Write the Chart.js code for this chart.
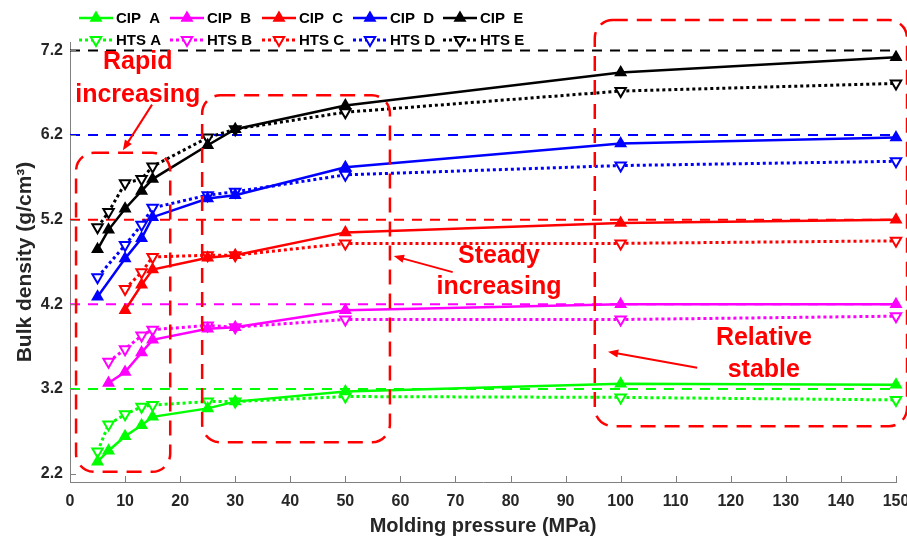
<!DOCTYPE html>
<html>
<head>
<meta charset="utf-8">
<script src="https://cdn.jsdelivr.net/npm/chart.js@4.4.1/dist/chart.umd.min.js"></script>
<style>
  html, body { margin: 0; padding: 0; background: #fff; }
  #wrap { width: 907px; height: 539px; }
</style>
</head>
<body>
<div id="wrap"><canvas id="densityChart" width="907" height="539"></canvas></div>
<script>
// ===== Data =====
const pressure = [5, 7, 10, 13, 15, 25, 30, 50, 100, 150];
const groups = ['A', 'B', 'C', 'D', 'E'];
const groupColors = ['#00ff00', '#ff00ff', '#ff0000', '#0000ff', '#000000'];

const cipA = [2.34, 2.47, 2.64, 2.77, 2.87, 2.97, 3.05, 3.17, 3.26, 3.25];
const cipB = [null, 3.27, 3.40, 3.63, 3.78, 3.91, 3.93, 4.13, 4.20, 4.20];
const cipC = [null, null, 4.13, 4.43, 4.61, 4.75, 4.78, 5.05, 5.16, 5.20];
const cipD = [4.29, null, 4.74, 4.98, 5.23, 5.45, 5.49, 5.82, 6.10, 6.17];
const cipE = [4.85, 5.08, 5.33, 5.54, 5.68, 6.08, 6.27, 6.55, 6.94, 7.12];

const htsA = [2.46, 2.78, 2.90, 2.99, 3.01, 3.05, 3.05, 3.11, 3.10, 3.07];
const htsB = [null, 3.52, 3.67, 3.83, 3.90, 3.95, 3.93, 4.02, 4.02, 4.06];
const htsC = [null, null, 4.38, 4.58, 4.76, 4.78, 4.78, 4.92, 4.92, 4.95];
const htsD = [4.52, null, 4.90, 5.14, 5.34, 5.49, 5.53, 5.73, 5.84, 5.89];
const htsE = [5.11, 5.29, 5.63, 5.68, 5.83, 6.17, 6.27, 6.47, 6.72, 6.81];

const refLevels = [3.2, 4.2, 5.2, 6.2, 7.2];
const yTicks = [2.2, 3.2, 4.2, 5.2, 6.2, 7.2];

const FONT = 'Arial, "Liberation Sans", Helvetica, sans-serif';
const TEXT = '#262626';
const AXIS = '#808080';

function toPoints(values) {
    return pressure.map((p, i) => ({ x: p, y: values[i] })).filter(pt => pt.y !== null);
}

const cip = [cipA, cipB, cipC, cipD, cipE];
const hts = [htsA, htsB, htsC, htsD, htsE];

const datasets = [];
cip.forEach((vals, i) => {
    datasets.push({
        label: 'CIP  ' + groups[i],
        data: toPoints(vals),
        borderColor: groupColors[i],
        backgroundColor: groupColors[i],
        borderWidth: 2.5,
        pointStyle: 'triangle',
        pointRadius: 6,
        pointBorderWidth: 1.5,
        pointBackgroundColor: groupColors[i],
        clip: false,
        kind: 'cip'
    });
});
hts.forEach((vals, i) => {
    datasets.push({
        label: 'HTS ' + groups[i],
        data: toPoints(vals),
        borderColor: groupColors[i],
        backgroundColor: '#fff',
        borderWidth: 3,
        borderDash: [3, 3],
        pointStyle: 'triangle',
        pointRotation: 180,
        pointRadius: 6,
        pointBorderWidth: 2,
        pointBackgroundColor: '#fff',
        clip: false,
        kind: 'hts'
    });
});
// dashed reference levels, drawn underneath
refLevels.forEach((lvl, i) => {
    datasets.push({
        label: 'ref ' + lvl,
        data: [{ x: 0, y: lvl }, { x: 150, y: lvl }],
        borderColor: groupColors[i],
        borderWidth: 2,
        borderDash: [10, 8],
        pointRadius: 0,
        kind: 'ref'
    });
});

// ===== Annotations (in data units) =====
const boxes = [
    { x0: 1.1, x1: 18.2, y0: 5.99, y1: 2.22 },
    { x0: 24.0, x1: 58.1, y0: 6.67, y1: 2.57 },
    { x0: 95.3, x1: 152.0, y0: 7.56, y1: 2.76 }
];
const notes = [
    { lines: ['Rapid', 'increasing'], x: 12.3, y: [7.06, 6.67], from: [14.9, 6.56], to: [9.6, 6.02] },
    { lines: ['Steady', 'increasing'], x: 77.9, y: [4.77, 4.40], from: [69.5, 4.58], to: [58.8, 4.77] },
    { lines: ['Relative', 'stable'], x: 126.0, y: [3.80, 3.42], from: [113.9, 3.45], to: [97.7, 3.64] }
];

function roundRect(c, x, y, w, h, r) {
    c.beginPath();
    c.moveTo(x + r, y);
    c.lineTo(x + w - r, y);
    c.arcTo(x + w, y, x + w, y + r, r);
    c.lineTo(x + w, y + h - r);
    c.arcTo(x + w, y + h, x + w - r, y + h, r);
    c.lineTo(x + r, y + h);
    c.arcTo(x, y + h, x, y + h - r, r);
    c.lineTo(x, y + r);
    c.arcTo(x, y, x + r, y, r);
    c.closePath();
}

function arrow(c, x1, y1, x2, y2) {
    const a = Math.atan2(y2 - y1, x2 - x1);
    const len = 11;
    c.beginPath();
    c.moveTo(x1, y1);
    c.lineTo(x2 - Math.cos(a) * len * 0.8, y2 - Math.sin(a) * len * 0.8);
    c.stroke();
    c.beginPath();
    c.moveTo(x2, y2);
    c.lineTo(x2 - len * Math.cos(a - 0.38), y2 - len * Math.sin(a - 0.38));
    c.lineTo(x2 - len * Math.cos(a + 0.38), y2 - len * Math.sin(a + 0.38));
    c.closePath();
    c.fill();
}

const decorPlugin = {
    id: 'decor',
    afterDraw(chart) {
        const c = chart.ctx;
        const xs = chart.scales.x, ys = chart.scales.y;
        const area = chart.chartArea;

        // inward ticks
        c.save();
        c.strokeStyle = AXIS;
        c.lineWidth = 1;
        yTicks.forEach(v => {
            const py = Math.round(ys.getPixelForValue(v)) + 0.5;
            c.beginPath(); c.moveTo(area.left, py); c.lineTo(area.left + 6, py); c.stroke();
        });
        for (let v = 0; v <= 150; v += 10) {
            const px = Math.round(xs.getPixelForValue(v)) + 0.5;
            c.beginPath(); c.moveTo(px, area.bottom); c.lineTo(px, area.bottom - 6); c.stroke();
        }
        c.restore();

        // dashed red boxes
        c.save();
        c.strokeStyle = '#ff0000';
        c.lineWidth = 2.5;
        c.setLineDash([15, 9]);
        boxes.forEach(b => {
            const x = xs.getPixelForValue(b.x0), y = ys.getPixelForValue(b.y0);
            const w = xs.getPixelForValue(b.x1) - x, h = ys.getPixelForValue(b.y1) - y;
            roundRect(c, x, y, w, h, 18);
            c.stroke();
        });
        c.restore();

        // notes and arrows
        c.save();
        c.fillStyle = '#ff0000';
        c.strokeStyle = '#ff0000';
        c.lineWidth = 2;
        c.font = 'bold 25px ' + FONT;
        c.textAlign = 'center';
        c.textBaseline = 'middle';
        notes.forEach(n => {
            n.lines.forEach((t, i) => {
                c.fillText(t, xs.getPixelForValue(n.x), ys.getPixelForValue(n.y[i]));
            });
            arrow(c, xs.getPixelForValue(n.from[0]), ys.getPixelForValue(n.from[1]),
                     xs.getPixelForValue(n.to[0]), ys.getPixelForValue(n.to[1]));
        });
        c.restore();

        // legend, two rows
        c.save();
        const colX = [79, 170, 262, 353, 443];
        const rowY = [18, 40];
        c.font = 'bold 15px ' + FONT;
        c.textBaseline = 'middle';
        c.textAlign = 'left';
        chart.data.datasets.forEach(ds => {
            if (ds.kind === 'ref') return;
            const g = groups.indexOf(ds.label.slice(-1));
            const row = ds.kind === 'cip' ? 0 : 1;
            const x0 = colX[g], y0 = rowY[row];
            c.strokeStyle = ds.borderColor;
            c.lineWidth = ds.borderWidth;
            c.setLineDash(ds.borderDash || []);
            c.beginPath(); c.moveTo(x0, y0); c.lineTo(x0 + 34, y0); c.stroke();
            c.setLineDash([]);
            c.lineWidth = ds.pointBorderWidth;
            c.fillStyle = ds.pointBackgroundColor;
            const cx = x0 + 17, r = 6, s = row === 0 ? -1 : 1;
            c.beginPath();
            c.moveTo(cx, y0 + s * r);
            c.lineTo(cx - r * 0.87, y0 - s * r * 0.5);
            c.lineTo(cx + r * 0.87, y0 - s * r * 0.5);
            c.closePath();
            c.fill(); c.stroke();
            c.fillStyle = '#000';
            c.fillText(ds.label, x0 + 37, y0 + 1);
        });
        c.restore();
    }
};

new Chart(document.getElementById('densityChart').getContext('2d'), {
    type: 'line',
    data: { datasets },
    plugins: [decorPlugin],
    options: {
        responsive: false,
        animation: false,
        layout: { padding: { top: 42, right: 11, left: 0, bottom: 0 } },
        plugins: { legend: { display: false }, tooltip: { enabled: false } },
        scales: {
            x: {
                type: 'linear',
                min: 0, max: 150,
                ticks: { stepSize: 10, color: TEXT, font: { family: FONT, size: 16, weight: 'bold' }, padding: 10, maxRotation: 0 },
                grid: { display: false, drawTicks: false },
                border: { display: true, color: AXIS, width: 1 },
                title: { display: true, text: 'Molding pressure (MPa)', color: TEXT, font: { family: FONT, size: 20, weight: 'bold' }, padding: { top: 0, bottom: 1 } },
                afterFit: s => { s.height = 57; s.paddingLeft = 0; s.paddingRight = 0; }
            },
            y: {
                min: 2.1, max: 7.3,
                afterBuildTicks: s => { s.ticks = yTicks.map(v => ({ value: v })); },
                ticks: { color: TEXT, font: { family: FONT, size: 16, weight: 'bold' }, padding: 7, callback: v => v.toFixed(1) },
                grid: { display: false, drawTicks: false },
                border: { display: true, color: AXIS, width: 1 },
                title: { display: true, text: 'Bulk density (g/cm³)', color: TEXT, font: { family: FONT, size: 21, weight: 'bold' }, padding: { top: 13, bottom: 0 } },
                afterFit: s => { s.width = 70; s.paddingTop = 0; s.paddingBottom = 0; }
            }
        }
    }
});
</script>
</body>
</html>
